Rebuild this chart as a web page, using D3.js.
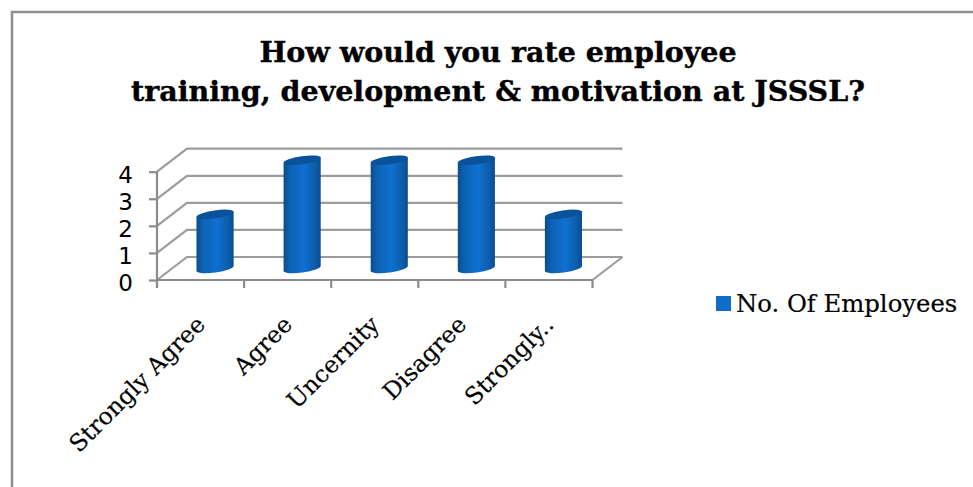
<!DOCTYPE html>
<html>
<head>
<meta charset="utf-8">
<script src="https://cdnjs.cloudflare.com/ajax/libs/d3/7.8.5/d3.min.js"></script>
<style>
  html, body { margin: 0; padding: 0; background: #fff; }
  svg { display: block; }
  text { font-family: "DejaVu Serif", serif; fill: #000; }
</style>
</head>
<body>
<div id="chart"></div>
<script>
var titleLines = ["How would you rate employee", "training, development & motivation at JSSSL?"],
    categories = ["Strongly Agree", "Agree", "Uncernity", "Disagree", "Strongly.."],
    employees = [2, 4, 4, 4, 2],
    yTicks = [0, 1, 2, 3, 4],
    seriesName = "No. Of Employees";

var width = 973, height = 487,
    depthX = 30, depthY = -23,
    gridColor = "#9c9c9c", axisColor = "#8c8c8c";

var svg = d3.select("#chart").append("svg")
    .attr("width", width)
    .attr("height", height);

var defs = svg.append("defs");
var grad = defs.append("linearGradient").attr("id", "cyl");
grad.selectAll("stop")
    .data([[0, "#0a4d8f"], [0.18, "#0d62b4"], [0.55, "#0f70d0"], [0.85, "#0c5dab"], [1, "#0a4d8f"]])
    .enter().append("stop")
    .attr("offset", function(d) { return d[0]; })
    .attr("stop-color", function(d) { return d[1]; });

// chart frame, only top and left show in the crop
svg.append("path")
    .attr("d", "M12,487V12H973")
    .attr("fill", "none")
    .attr("stroke", "#8f8f8f")
    .attr("stroke-width", 2.5);

svg.selectAll(".title")
    .data(titleLines)
    .enter().append("text")
    .attr("class", "title")
    .attr("x", 498)
    .attr("y", function(d, i) { return 62 + i * 39; })
    .attr("text-anchor", "middle")
    .style("font-size", "28.5px")
    .style("font-weight", "bold")
    .style("stroke", "#000")
    .style("stroke-width", 0.4)
    .text(function(d) { return d; });

var x = d3.scaleBand().domain(categories).range([157, 592.5]);
var y = d3.scaleLinear().domain([0, 4]).range([280, 171.7]);

var grid = svg.append("g");

// back wall and side wall lines
grid.selectAll(".wall")
    .data(yTicks)
    .enter().append("path")
    .attr("class", "wall")
    .attr("fill", "none")
    .attr("stroke", gridColor)
    .attr("stroke-width", 2.2)
    .attr("d", function(d) {
      return "M157," + y(d) + "L" + (157 + depthX) + "," + (y(d) + depthY) + "H" + (592.5 + depthX);
    });

// floor
grid.append("path")
    .attr("fill", "none")
    .attr("stroke", gridColor)
    .attr("stroke-width", 2.2)
    .attr("d", "M592.5,280L" + (592.5 + depthX) + "," + (280 + depthY));

var yAxis = d3.axisLeft(y).tickValues(yTicks).tickSize(8).tickFormat(d3.format("d"));

var gx = svg.append("g").attr("transform", "translate(0,280)");
gx.append("path")
    .attr("fill", "none")
    .attr("stroke", axisColor)
    .attr("stroke-width", 2.2)
    .attr("d", "M157,0H592.5");
gx.selectAll(".xtick")
    .data(categories.concat(["end"]))
    .enter().append("line")
    .attr("class", "xtick")
    .attr("x1", function(d, i) { return i < categories.length ? x(d) : x.range()[1]; })
    .attr("x2", function(d, i) { return i < categories.length ? x(d) : x.range()[1]; })
    .attr("y1", 0)
    .attr("y2", 8)
    .attr("stroke", axisColor)
    .attr("stroke-width", 2.2);

var gy = svg.append("g").attr("transform", "translate(157,0)").call(yAxis);
gy.select(".domain").attr("stroke", axisColor).attr("stroke-width", 2.2).attr("d", "M0,171.7V288");
gy.selectAll(".tick line").attr("stroke", axisColor).attr("stroke-width", 2.2);
gy.selectAll(".tick text")
    .attr("x", -24)
    .attr("dy", "0.45em")
    .style("font-size", "23px")
    .style("font-family", "'DejaVu Sans', sans-serif")
    .attr("fill", "#000");

// cylinders
var barW = 37.5, ry = 4, tilt = -8;
var floorY = 280 + depthY / 2, midX = depthX / 2 - 0.5;

var bars = svg.selectAll(".bar")
    .data(employees)
    .enter().append("g")
    .attr("class", "bar")
    .attr("transform", function(d, i) {
      return "translate(" + (x(categories[i]) + x.bandwidth() / 2 + midX) + ",0)";
    });

bars.append("path")
    .attr("fill", "url(#cyl)")
    .attr("d", function(d) {
      var top = floorY - (y(0) - y(d));
      var t = barW / 2 * Math.sin(-tilt * Math.PI / 180);
      var c = barW / 2 * Math.cos(tilt * Math.PI / 180);
      return "M" + (-c) + "," + (top + t) +
        "V" + (floorY + t) +
        "A" + (barW / 2) + "," + ry + " " + tilt + " 0 0 " + c + "," + (floorY - t) +
        "V" + (top - t) + "Z";
    });

bars.append("ellipse")
    .attr("rx", barW / 2)
    .attr("ry", ry)
    .attr("fill", "#0a5299")
    .attr("transform", function(d) {
      return "translate(0," + (floorY - (y(0) - y(d))) + ") rotate(" + tilt + ")";
    });

// legend
svg.append("rect")
    .attr("x", 716)
    .attr("y", 296)
    .attr("width", 15)
    .attr("height", 15)
    .attr("fill", "#0f6dca");

svg.append("text")
    .attr("x", 736)
    .attr("y", 312)
    .style("font-size", "24.3px")
    .style("stroke", "#000")
    .style("stroke-width", 0.2)
    .text(seriesName);

// category labels
svg.selectAll(".cat")
    .data(categories)
    .enter().append("text")
    .attr("class", "cat")
    .attr("text-anchor", "end")
    .attr("transform", function(d) {
      return "translate(" + (x(d) + x.bandwidth() / 2 + 6) + ",326) rotate(-45)";
    })
    .style("font-size", "23.5px")
    .style("stroke", "#000")
    .style("stroke-width", 0.2)
    .text(function(d) { return d; });
</script>
</body>
</html>
